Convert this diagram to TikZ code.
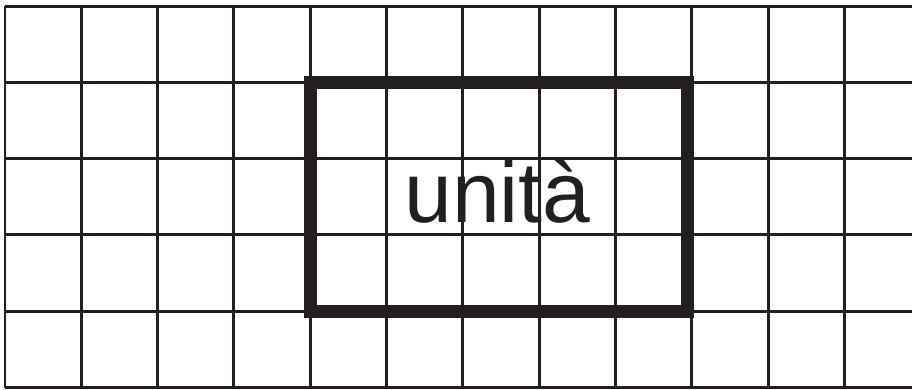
\documentclass[tikz,border=0pt]{standalone}
\usepackage{fontspec}
\setmainfont{Liberation Sans}
\definecolor{ink}{HTML}{231F20}
\tikzset{
  gridline/.style={draw=ink, line width=1.1pt},
  unitbox/.style={draw=ink, line width=4.9pt, line join=miter},
}

\begin{document}
\begin{tikzpicture}
        \useasboundingbox (-0.0655,-0.026) rectangle (11.887,5.079);
        \draw[gridline] (0,0) grid (11.887,5);
        \draw[gridline] (0,0) -- (0,5);
        \coordinate (A) at (4,1);
        \coordinate (B) at (8.95,4);
        \draw[unitbox] (A) rectangle (B);
        \node[anchor=base, text=ink, font=\fontsize{32}{36}\selectfont, inner sep=0pt] (unita) at (6.455,2.16) {unità};
    \end{tikzpicture}
\end{document}
